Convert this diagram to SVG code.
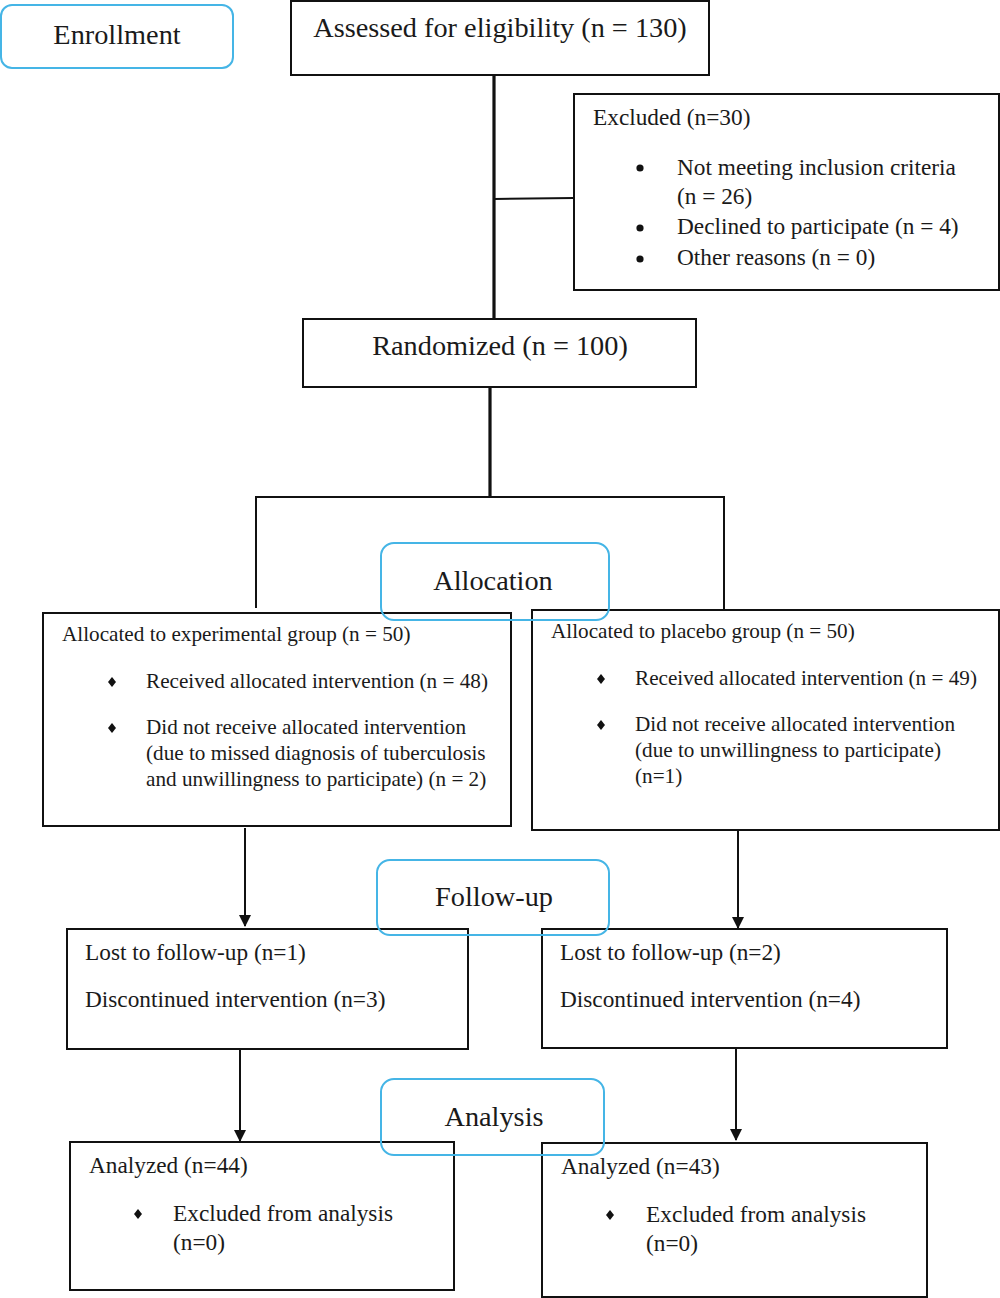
<svg xmlns="http://www.w3.org/2000/svg" width="1000" height="1298" viewBox="0 0 1000 1298">
<defs>
<style>
.box{fill:#fff;stroke:#111;stroke-width:2}
.stage{fill:none;stroke:#45b5e6;stroke-width:2}
.ln{fill:none;stroke:#111;stroke-width:2}
.thick{fill:none;stroke:#111;stroke-width:3.2}
text{font-family:"Liberation Serif","Times New Roman",serif;fill:#1a1a1a}
.t26{font-size:28.3px}
.t21{font-size:23.3px}
.t19{font-size:21.2px}
.c{text-anchor:middle}
.dot{fill:#111}
</style>
<marker id="arr" viewBox="0 0 12 12" refX="11" refY="6" markerWidth="12" markerHeight="12" markerUnits="userSpaceOnUse" orient="auto">
<path d="M0,0 L12,6 L0,12 z" fill="#111"/>
</marker>
<path id="dia" d="M0,-5 L4,0 L0,5 L-4,0 z" class="dot"/>
</defs>

<g id="connectors">
<line class="thick" x1="494" y1="75" x2="494" y2="320"/>
<line class="ln" x1="494" y1="199" x2="574" y2="198"/>
<line class="thick" x1="490" y1="387" x2="490" y2="497"/>
<polyline class="ln" points="256,608 256,497 724,497 724,610"/>
<line class="ln" x1="245" y1="828" x2="245" y2="926" marker-end="url(#arr)"/>
<line class="ln" x1="738" y1="831" x2="738" y2="928" marker-end="url(#arr)"/>
<line class="ln" x1="240" y1="1050" x2="240" y2="1141" marker-end="url(#arr)"/>
<line class="ln" x1="736" y1="1049" x2="736" y2="1140" marker-end="url(#arr)"/>
</g>

<g id="assessed">
<rect class="box" x="291" y="1" width="418" height="74"/>
<text class="t26 c" x="500" y="37">Assessed for eligibility (n = 130)</text>
</g>

<g id="excluded">
<rect class="box" x="574" y="94" width="425" height="196"/>
<text class="t21" x="593" y="125">Excluded (n=30)</text>
<circle class="dot" cx="640" cy="168" r="3.6"/>
<circle class="dot" cx="640" cy="228" r="3.6"/>
<circle class="dot" cx="640" cy="259" r="3.6"/>
<text class="t21" x="677" y="175">Not meeting inclusion criteria</text>
<text class="t21" x="677" y="204">(n = 26)</text>
<text class="t21" x="677" y="234">Declined to participate (n = 4)</text>
<text class="t21" x="677" y="265">Other reasons (n = 0)</text>
</g>

<g id="randomized">
<rect class="box" x="303" y="319" width="393" height="68"/>
<text class="t26 c" x="500" y="355">Randomized (n = 100)</text>
</g>

<g id="alloc-exp">
<rect class="box" x="43" y="613" width="468" height="213"/>
<text class="t19" x="62" y="641">Allocated to experimental group (n = 50)</text>
<use href="#dia" x="112" y="682"/>
<use href="#dia" x="112" y="728"/>
<text class="t19" x="146" y="688">Received allocated intervention (n = 48)</text>
<text class="t19" x="146" y="734">Did not receive allocated intervention</text>
<text class="t19" x="146" y="760">(due to missed diagnosis of tuberculosis</text>
<text class="t19" x="146" y="786">and unwillingness to participate) (n = 2)</text>
</g>

<g id="alloc-pla">
<rect class="box" x="532" y="610" width="467" height="220"/>
<text class="t19" x="551" y="638">Allocated to placebo group (n = 50)</text>
<use href="#dia" x="601" y="679"/>
<use href="#dia" x="601" y="725"/>
<text class="t19" x="635" y="685">Received allocated intervention (n = 49)</text>
<text class="t19" x="635" y="731">Did not receive allocated intervention</text>
<text class="t19" x="635" y="757">(due to unwillingness to participate)</text>
<text class="t19" x="635" y="783">(n=1)</text>
</g>

<g id="follow-exp">
<rect class="box" x="67" y="929" width="401" height="120"/>
<text class="t21" x="85" y="960">Lost to follow-up (n=1)</text>
<text class="t21" x="85" y="1007">Discontinued intervention (n=3)</text>
</g>

<g id="follow-pla">
<rect class="box" x="542" y="929" width="405" height="119"/>
<text class="t21" x="560" y="960">Lost to follow-up (n=2)</text>
<text class="t21" x="560" y="1007">Discontinued intervention (n=4)</text>
</g>

<g id="analyzed-exp">
<rect class="box" x="70" y="1142" width="384" height="148"/>
<text class="t21" x="89" y="1173">Analyzed (n=44)</text>
<use href="#dia" x="138" y="1214"/>
<text class="t21" x="173" y="1221">Excluded from analysis</text>
<text class="t21" x="173" y="1250">(n=0)</text>
</g>

<g id="analyzed-pla">
<rect class="box" x="542" y="1143" width="385" height="154"/>
<text class="t21" x="561" y="1174">Analyzed (n=43)</text>
<use href="#dia" x="610" y="1215"/>
<text class="t21" x="646" y="1222">Excluded from analysis</text>
<text class="t21" x="646" y="1251">(n=0)</text>
</g>

<g id="stage-enrollment">
<rect class="stage" x="1" y="5" width="232" height="63" rx="11"/>
<text class="t26 c" x="117" y="44">Enrollment</text>
</g>
<g id="stage-allocation">
<rect class="stage" x="381" y="543" width="228" height="77" rx="13"/>
<text class="t26 c" x="493" y="590">Allocation</text>
</g>
<g id="stage-followup">
<rect class="stage" x="377" y="860" width="232" height="75" rx="13"/>
<text class="t26 c" x="494" y="906">Follow-up</text>
</g>
<g id="stage-analysis">
<rect class="stage" x="381" y="1079" width="223" height="76" rx="13"/>
<text class="t26 c" x="494" y="1126">Analysis</text>
</g>
</svg>
